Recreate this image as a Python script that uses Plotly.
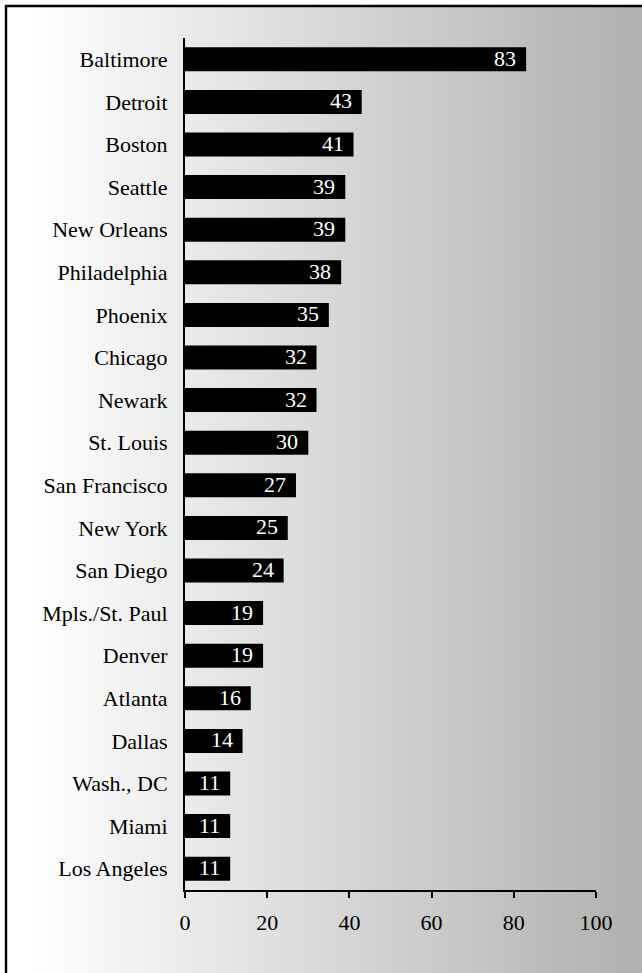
import plotly.graph_objects as go

# Cities (top to bottom) and their values
cities = ["Baltimore", "Detroit", "Boston", "Seattle", "New Orleans", "Philadelphia",
          "Phoenix", "Chicago", "Newark", "St. Louis", "San Francisco", "New York",
          "San Diego", "Mpls./St. Paul", "Denver", "Atlanta", "Dallas", "Wash., DC",
          "Miami", "Los Angeles"]
values = [83, 43, 41, 39, 39, 38, 35, 32, 32, 30, 27, 25, 24, 19, 19, 16, 14, 11, 11, 11]
x_ticks = [0, 20, 40, 60, 80, 100]

W, H = 642, 973
L, R, T, B = 185, 46, 38, 83
PW, PH = W - L - R, H - T - B
FONT = "Liberation Serif"


def px_x(p):
    return (p - L) / PW


def px_y(p):
    return 1 - (p - T) / PH


fig = go.Figure()
fig.add_trace(go.Bar(
    x=values, y=cities, orientation="h",
    marker=dict(color="black", line=dict(width=0)),
    hoverinfo="skip",
))

# value labels sitting inside the end of each bar
annotations = [
    dict(x=v, y=c, xref="x", yref="y", text=str(v), showarrow=False,
         xanchor="right", xshift=-8, yshift=1,
         font=dict(family=FONT, size=22, color="white"))
    for c, v in zip(cities, values)
]

# horizontal grey gradient panel with a black frame on the left and top
shapes = []
x_start, x_end = 6, W
n = 128
step = (x_end - x_start) / n
for i in range(n):
    xa = x_start + i * step
    xb = xa + step + 0.6
    xm = xa + step / 2
    t = min(max((xm - 30) / 590, 0), 1)
    g = round(255 - 77 * t)
    shapes.append(dict(type="rect", xref="paper", yref="paper",
                       x0=px_x(xa), x1=px_x(xb), y0=px_y(H + 2), y1=px_y(6),
                       fillcolor=f"rgb({g},{g},{g})", line=dict(width=0),
                       layer="below"))
shapes.append(dict(type="line", xref="paper", yref="paper",
                   x0=px_x(6), x1=px_x(6), y0=px_y(5), y1=px_y(H + 2),
                   line=dict(color="black", width=2.4), layer="below"))
shapes.append(dict(type="line", xref="paper", yref="paper",
                   x0=px_x(5), x1=px_x(W + 2), y0=px_y(6), y1=px_y(6),
                   line=dict(color="black", width=2.4), layer="below"))

fig.update_layout(
    width=W, height=H,
    margin=dict(l=L, r=R, t=T, b=B, pad=0),
    paper_bgcolor="white",
    plot_bgcolor="rgba(0,0,0,0)",
    bargap=0.437,
    showlegend=False,
    font=dict(family=FONT, size=22, color="black"),
    shapes=shapes,
    annotations=annotations,
    xaxis=dict(range=[0, 100], tickvals=x_ticks, ticktext=[str(t) for t in x_ticks],
               showgrid=False, zeroline=False, showline=True, linecolor="black",
               linewidth=2, ticks="outside", ticklen=6, tickwidth=2,
               tickcolor="black", ticklabelstandoff=6,
               tickfont=dict(family=FONT, size=22, color="black"), fixedrange=True),
    yaxis=dict(categoryorder="array", categoryarray=cities[::-1],
               showgrid=False, zeroline=False, showline=True, linecolor="black",
               linewidth=2, ticks="", ticklabelstandoff=11,
               tickfont=dict(family=FONT, size=22, color="black"), fixedrange=True),
)

fig.write_html("out.html")
